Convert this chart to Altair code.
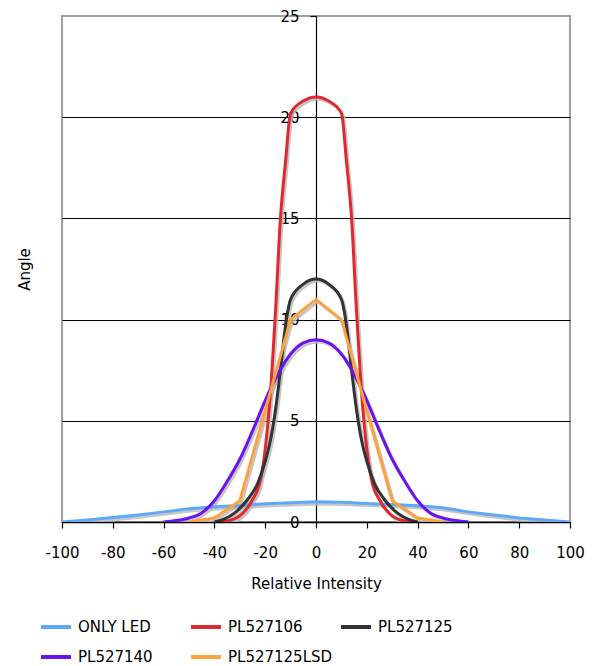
import altair as alt
import pandas as pd

series = ["ONLY LED", "PL527106", "PL527125", "PL527140", "PL527125LSD"]
colors = ["#5ea9f7", "#e0282e", "#333333", "#6a12f0", "#fca33f"]
smooth = [False, True, True, True, False]
# legend is filled column by column, so list entries in that order to read row by row
legend_order = ["ONLY LED", "PL527140", "PL527106", "PL527125LSD", "PL527125"]

led_x = [-100, -90, -80, -70, -60, -50, -40, -30, -20, -10, 0, 10, 20, 30, 40, 50, 60, 70, 80, 90, 100]
led_y = [0.0, 0.1, 0.22, 0.35, 0.5, 0.65, 0.75, 0.82, 0.9, 0.95, 1.0, 0.97, 0.92, 0.87, 0.8, 0.7, 0.5, 0.35, 0.2, 0.1, 0.0]

p106_x = [-38, -35, -30, -25, -22, -20, -18, -16, -14, -12, -10, -5, 0, 5, 10, 12, 14, 16, 18, 20, 22, 25, 30, 35, 38]
p106_y = [0.0, 0.05, 0.3, 1.1, 2.0, 3.6, 6.3, 10.3, 15.0, 17.8, 20.2, 20.8, 21.0, 20.8, 20.2, 17.8, 15.0, 10.3, 6.3, 3.6, 2.0, 1.1, 0.3, 0.05, 0.0]

p125_x = [-40, -36, -32, -27, -23, -20, -18, -16, -14, -12, -10, -5, 0, 5, 10, 12, 14, 16, 18, 20, 23, 27, 32, 36, 40]
p125_y = [0.0, 0.15, 0.45, 1.1, 1.9, 3.0, 4.0, 5.5, 7.5, 9.7, 11.0, 11.75, 12.0, 11.75, 11.0, 9.7, 7.5, 5.5, 4.0, 3.0, 1.9, 1.1, 0.45, 0.15, 0.0]

p140_x = [-60, -55, -50, -45, -40, -35, -30, -25, -20, -15, -10, -5, 0, 5, 10, 15, 20, 25, 30, 35, 40, 45, 50, 55, 60]
p140_y = [0.0, 0.07, 0.2, 0.45, 1.05, 2.0, 3.1, 4.5, 6.0, 7.3, 8.3, 8.85, 9.0, 8.85, 8.3, 7.3, 6.0, 4.5, 3.1, 2.0, 1.05, 0.45, 0.2, 0.07, 0.0]

lsd_x = [-50, -40, -30, -20, -10, 0, 10, 20, 30, 40, 50]
lsd_y = [0.0, 0.2, 1.05, 5.5, 10.0, 11.0, 10.0, 5.5, 1.05, 0.2, 0.0]

x_ticks = list(range(-100, 101, 20))
y_ticks = [0, 5, 10, 15, 20, 25]

xs = [led_x, p106_x, p125_x, p140_x, lsd_x]
ys = [led_y, p106_y, p125_y, p140_y, lsd_y]

frames = []
for i, name in enumerate(series):
    frames.append(pd.DataFrame({"x": xs[i], "y": ys[i], "series": name}))
df = pd.concat(frames, ignore_index=True)

color_map = dict(zip(series, colors))
legend_colors = [color_map[s] for s in legend_order]

W, H = 508, 506
FONT = "DejaVu Sans"

xscale = alt.Scale(domain=[-100, 100], nice=False, zero=False)
yscale = alt.Scale(domain=[0, 25], nice=False)

shadow_layers = []
line_layers = []
for i, name in enumerate(series):
    interp = "monotone" if smooth[i] else "linear"
    sub = alt.Chart(df).transform_filter(alt.datum.series == name)
    shadow_layers.append(
        sub.transform_calculate(xs="datum.x + 0.7", ys="datum.y - 0.11")
        .mark_line(color="#b8b8b8", strokeWidth=3, opacity=0.8, interpolate=interp, clip=True)
        .encode(x=alt.X("xs:Q", scale=xscale), y=alt.Y("ys:Q", scale=yscale), order="x:Q")
    )
    line_layers.append(
        sub.mark_line(strokeWidth=3, interpolate=interp, clip=True).encode(
            x=alt.X(
                "x:Q",
                scale=xscale,
                axis=alt.Axis(
                    values=x_ticks,
                    labelExpr="'' + datum.value",
                    labelOverlap=False,
                    labelFlush=False,
                    title="Relative Intensity",
                    grid=False,
                    domainColor="black",
                    domainWidth=1.5,
                    tickColor="black",
                    tickSize=6,
                    tickWidth=1.2,
                    labelPadding=17,
                    labelFontSize=15,
                    labelColor="black",
                    titleFontSize=15,
                    titleFontWeight="normal",
                    titleColor="black",
                    titlePadding=16,
                ),
            ),
            y=alt.Y(
                "y:Q",
                scale=yscale,
                axis=alt.Axis(
                    values=y_ticks,
                    labelOverlap=False,
                    labelFlush=False,
                    title="Angle",
                    offset=-254,
                    titleX=-284,
                    titleY=253,
                    titleAngle=270,
                    grid=True,
                    gridColor={"condition": {"test": "datum.value === 25", "value": "#a0a0a0"}, "value": "black"},
                    gridWidth=1.2,
                    domainColor="black",
                    domainWidth=1.2,
                    tickColor="black",
                    tickSize=6,
                    tickWidth=1.2,
                    labelPadding=11,
                    labelFontSize=15,
                    labelColor="black",
                    titleFontSize=15,
                    titleFontWeight="normal",
                    titleColor="black",
                ),
            ),
            color=alt.Color(
                "series:N",
                scale=alt.Scale(domain=legend_order, range=legend_colors),
                sort=legend_order,
                legend=alt.Legend(
                    title=None,
                    orient="none",
                    legendX=-23,
                    legendY=594,
                    columns=3,
                    gridAlign="all",
                    columnPadding=0,
                    rowPadding=5,
                    symbolType="stroke",
                    symbolSize=900,
                    symbolStrokeWidth=4,
                    labelFontSize=15,
                    labelColor="black",
                    labelOffset=5,
                    padding=0,
                ),
            ),
            order="x:Q",
        )
    )

chart = (
    alt.layer(*shadow_layers, *line_layers)
    .properties(
        width=W,
        height=H,
        autosize=alt.AutoSizeParams(type="none"),
        padding={"left": 54, "top": 8, "right": 24, "bottom": 144},
    )
    .configure(font=FONT)
    .configure_view(stroke="#a0a0a0", strokeWidth=2)
)

chart.save("out.html", embed_options={"renderer": "svg", "actions": False})
